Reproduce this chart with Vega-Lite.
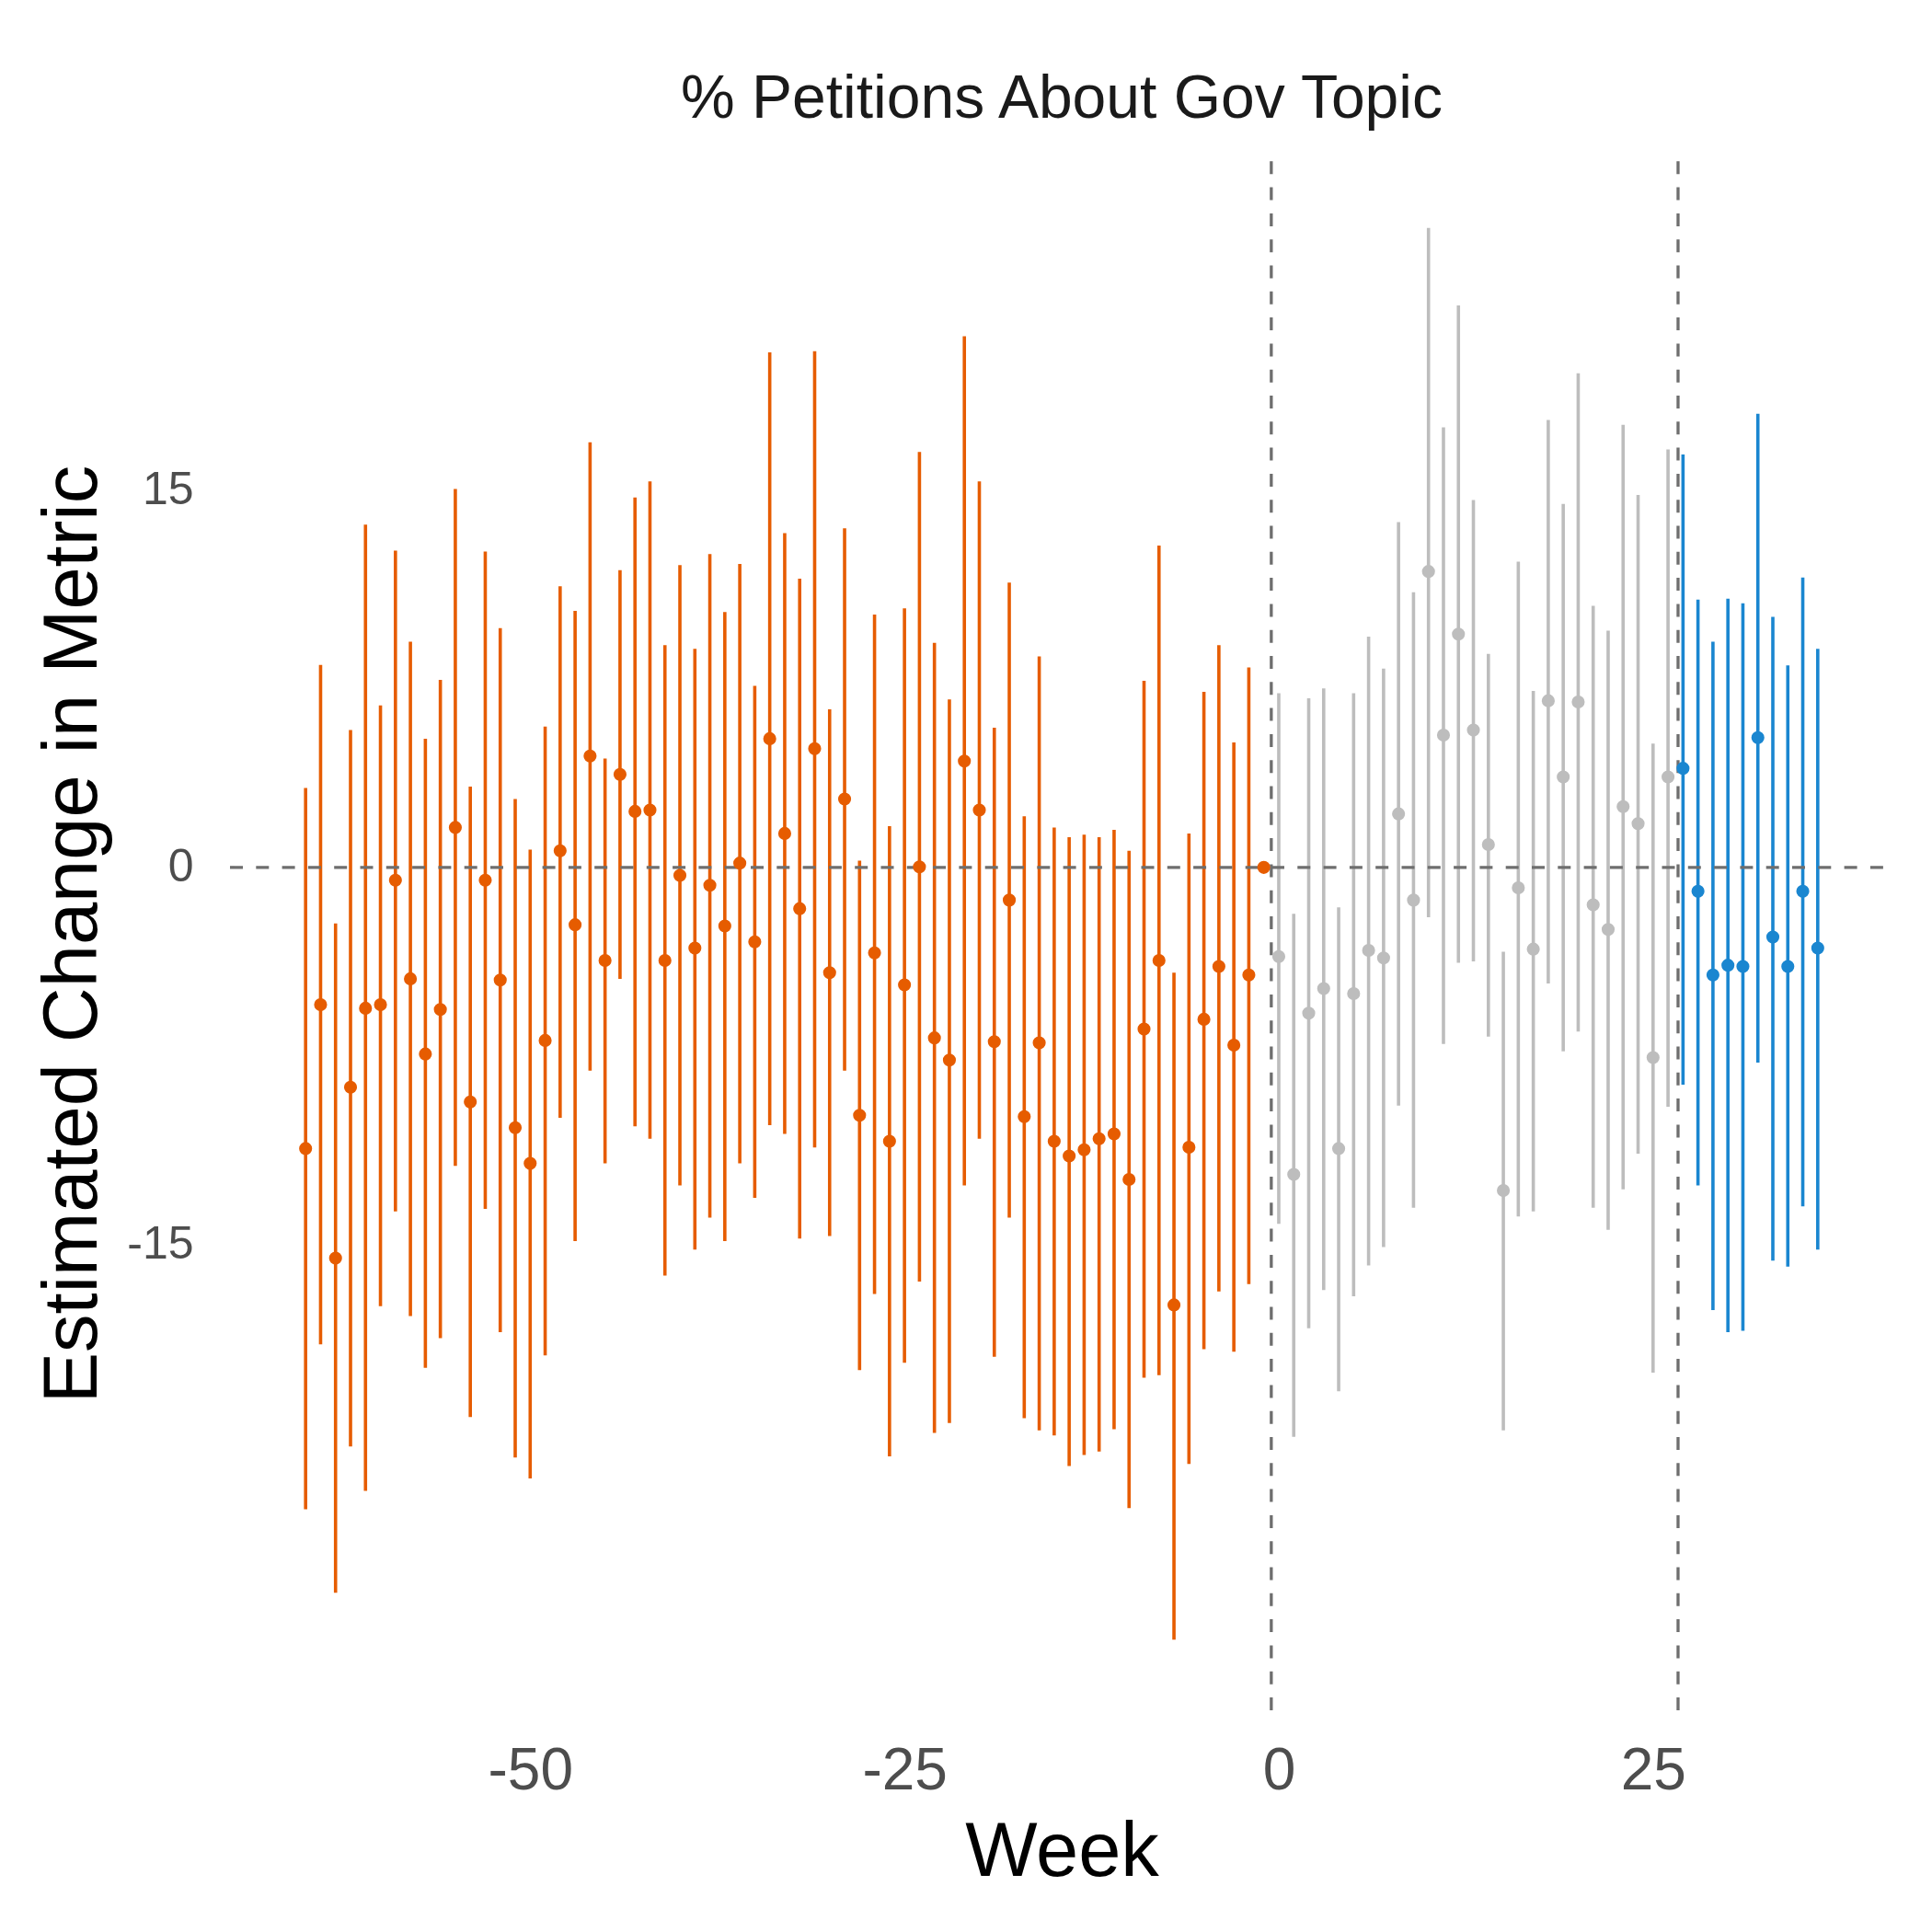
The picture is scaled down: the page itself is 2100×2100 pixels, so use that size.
{
  "$schema": "https://vega.github.io/schema/vega-lite/v6.json",
  "autosize": "none",
  "padding": {"left": 250, "top": 171, "right": 42, "bottom": 241},
  "width": 1808,
  "height": 1688,
  "background": "white",
  "config": {
    "view": {"stroke": null},
    "font": "Liberation Sans",
    "axis": {"domain": false, "ticks": false, "grid": false, "labelFont": "Liberation Sans", "titleFont": "Liberation Sans", "labelColor": "#4d4d4d", "titleColor": "#000000", "titleFontWeight": "normal"}
  },
  "title": {"text": "% Petitions About Gov Topic", "anchor": "middle", "frame": "group", "offset": 41, "dy": 66, "baseline": "alphabetic", "fontSize": 66, "fontWeight": "normal", "font": "Liberation Sans", "color": "#1a1a1a"},
  "datasets": {
    "est": [
      {"w": -65, "p": "pre", "e": -11.18, "hi": 3.16, "lo": -25.53},
      {"w": -64, "p": "pre", "e": -5.46, "hi": 8.05, "lo": -18.97},
      {"w": -63, "p": "pre", "e": -15.54, "hi": -2.23, "lo": -28.85},
      {"w": -62, "p": "pre", "e": -8.74, "hi": 5.46, "lo": -23.03},
      {"w": -61, "p": "pre", "e": -5.60, "hi": 13.63, "lo": -24.79},
      {"w": -60, "p": "pre", "e": -5.46, "hi": 6.44, "lo": -17.45},
      {"w": -59, "p": "pre", "e": -0.51, "hi": 12.60, "lo": -13.68},
      {"w": -58, "p": "pre", "e": -4.43, "hi": 8.98, "lo": -17.84},
      {"w": -57, "p": "pre", "e": -7.42, "hi": 5.12, "lo": -19.90},
      {"w": -56, "p": "pre", "e": -5.65, "hi": 7.46, "lo": -18.72},
      {"w": -55, "p": "pre", "e": 1.59, "hi": 15.05, "lo": -11.87},
      {"w": -54, "p": "pre", "e": -9.33, "hi": 3.21, "lo": -21.86},
      {"w": -53, "p": "pre", "e": -0.51, "hi": 12.56, "lo": -13.58},
      {"w": -52, "p": "pre", "e": -4.48, "hi": 9.52, "lo": -18.48},
      {"w": -51, "p": "pre", "e": -10.35, "hi": 2.72, "lo": -23.47},
      {"w": -50, "p": "pre", "e": -11.77, "hi": 0.71, "lo": -24.30},
      {"w": -49, "p": "pre", "e": -6.88, "hi": 5.60, "lo": -19.41},
      {"w": -48, "p": "pre", "e": 0.66, "hi": 11.18, "lo": -9.96},
      {"w": -47, "p": "pre", "e": -2.28, "hi": 10.20, "lo": -14.86},
      {"w": -46, "p": "pre", "e": 4.43, "hi": 16.91, "lo": -8.08},
      {"w": -45, "p": "pre", "e": -3.70, "hi": 4.33, "lo": -11.77},
      {"w": -44, "p": "pre", "e": 3.70, "hi": 11.82, "lo": -4.43},
      {"w": -43, "p": "pre", "e": 2.23, "hi": 14.71, "lo": -10.30},
      {"w": -42, "p": "pre", "e": 2.28, "hi": 15.35, "lo": -10.79},
      {"w": -41, "p": "pre", "e": -3.70, "hi": 8.84, "lo": -16.23},
      {"w": -40, "p": "pre", "e": -0.32, "hi": 12.02, "lo": -12.65},
      {"w": -39, "p": "pre", "e": -3.21, "hi": 8.69, "lo": -15.20},
      {"w": -38, "p": "pre", "e": -0.71, "hi": 12.46, "lo": -13.93},
      {"w": -37, "p": "pre", "e": -2.33, "hi": 10.16, "lo": -14.86},
      {"w": -36, "p": "pre", "e": 0.17, "hi": 12.07, "lo": -11.77},
      {"w": -35, "p": "pre", "e": -2.96, "hi": 7.22, "lo": -13.14},
      {"w": -34, "p": "pre", "e": 5.12, "hi": 20.48, "lo": -10.25},
      {"w": -33, "p": "pre", "e": 1.35, "hi": 13.29, "lo": -10.60},
      {"w": -32, "p": "pre", "e": -1.64, "hi": 11.48, "lo": -14.76},
      {"w": -31, "p": "pre", "e": 4.72, "hi": 20.53, "lo": -11.14},
      {"w": -30, "p": "pre", "e": -4.19, "hi": 6.29, "lo": -14.66},
      {"w": -29, "p": "pre", "e": 2.72, "hi": 13.49, "lo": -8.08},
      {"w": -28, "p": "pre", "e": -9.86, "hi": 0.27, "lo": -19.99},
      {"w": -27, "p": "pre", "e": -3.40, "hi": 10.06, "lo": -16.96},
      {"w": -26, "p": "pre", "e": -10.89, "hi": 1.64, "lo": -23.42},
      {"w": -25, "p": "pre", "e": -4.67, "hi": 10.30, "lo": -19.70},
      {"w": -24, "p": "pre", "e": 0.02, "hi": 16.52, "lo": -16.47},
      {"w": -23, "p": "pre", "e": -6.78, "hi": 8.93, "lo": -22.49},
      {"w": -22, "p": "pre", "e": -7.66, "hi": 6.68, "lo": -22.10},
      {"w": -21, "p": "pre", "e": 4.23, "hi": 21.12, "lo": -12.65},
      {"w": -20, "p": "pre", "e": 2.28, "hi": 15.35, "lo": -10.79},
      {"w": -19, "p": "pre", "e": -6.93, "hi": 5.56, "lo": -19.46},
      {"w": -18, "p": "pre", "e": -1.30, "hi": 11.33, "lo": -13.93},
      {"w": -17, "p": "pre", "e": -9.91, "hi": 2.03, "lo": -21.90},
      {"w": -16, "p": "pre", "e": -6.98, "hi": 8.39, "lo": -22.39},
      {"w": -15, "p": "pre", "e": -10.89, "hi": 1.59, "lo": -22.59},
      {"w": -14, "p": "pre", "e": -11.48, "hi": 1.20, "lo": -23.81},
      {"w": -13, "p": "pre", "e": -11.23, "hi": 1.30, "lo": -23.37},
      {"w": -12, "p": "pre", "e": -10.79, "hi": 1.20, "lo": -23.23},
      {"w": -11, "p": "pre", "e": -10.60, "hi": 1.49, "lo": -22.34},
      {"w": -10, "p": "pre", "e": -12.41, "hi": 0.66, "lo": -25.48},
      {"w": -9, "p": "pre", "e": -6.43, "hi": 7.42, "lo": -20.29},
      {"w": -8, "p": "pre", "e": -3.70, "hi": 12.80, "lo": -20.19},
      {"w": -7, "p": "pre", "e": -17.40, "hi": -4.19, "lo": -30.71},
      {"w": -6, "p": "pre", "e": -11.13, "hi": 1.35, "lo": -23.72},
      {"w": -5, "p": "pre", "e": -6.04, "hi": 6.98, "lo": -19.16},
      {"w": -4, "p": "pre", "e": -3.94, "hi": 8.84, "lo": -16.86},
      {"w": -3, "p": "pre", "e": -7.07, "hi": 4.97, "lo": -19.26},
      {"w": -2, "p": "pre", "e": -4.28, "hi": 7.95, "lo": -16.57},
      {"w": -1, "p": "pre", "e": 0, "hi": 0, "lo": 0},
      {"w": 0, "p": "mid", "e": -3.55, "hi": 6.93, "lo": -14.17},
      {"w": 1, "p": "mid", "e": -12.21, "hi": -1.84, "lo": -22.64},
      {"w": 2, "p": "mid", "e": -5.80, "hi": 6.73, "lo": -18.33},
      {"w": 3, "p": "mid", "e": -4.82, "hi": 7.12, "lo": -16.81},
      {"w": 4, "p": "mid", "e": -11.18, "hi": -1.59, "lo": -20.83},
      {"w": 5, "p": "mid", "e": -5.02, "hi": 6.93, "lo": -17.06},
      {"w": 6, "p": "mid", "e": -3.30, "hi": 9.18, "lo": -15.83},
      {"w": 7, "p": "mid", "e": -3.60, "hi": 7.91, "lo": -15.10},
      {"w": 8, "p": "mid", "e": 2.13, "hi": 13.73, "lo": -9.47},
      {"w": 9, "p": "mid", "e": -1.30, "hi": 10.94, "lo": -13.53},
      {"w": 10, "p": "mid", "e": 11.77, "hi": 25.43, "lo": -1.98},
      {"w": 11, "p": "mid", "e": 5.26, "hi": 17.50, "lo": -7.02},
      {"w": 12, "p": "mid", "e": 9.28, "hi": 22.35, "lo": -3.79},
      {"w": 13, "p": "mid", "e": 5.46, "hi": 14.61, "lo": -3.74},
      {"w": 14, "p": "mid", "e": 0.91, "hi": 8.49, "lo": -6.73},
      {"w": 15, "p": "mid", "e": -12.85, "hi": -3.35, "lo": -22.39},
      {"w": 16, "p": "mid", "e": -0.81, "hi": 12.16, "lo": -13.88},
      {"w": 17, "p": "mid", "e": -3.25, "hi": 7.02, "lo": -13.68},
      {"w": 18, "p": "mid", "e": 6.63, "hi": 17.79, "lo": -4.62},
      {"w": 19, "p": "mid", "e": 3.60, "hi": 14.46, "lo": -7.31},
      {"w": 20, "p": "mid", "e": 6.58, "hi": 19.65, "lo": -6.53},
      {"w": 21, "p": "mid", "e": -1.49, "hi": 10.40, "lo": -13.53},
      {"w": 22, "p": "mid", "e": -2.47, "hi": 9.42, "lo": -14.41},
      {"w": 23, "p": "mid", "e": 2.42, "hi": 17.60, "lo": -12.80},
      {"w": 24, "p": "mid", "e": 1.74, "hi": 14.81, "lo": -11.38},
      {"w": 25, "p": "mid", "e": -7.56, "hi": 4.92, "lo": -20.09},
      {"w": 26, "p": "mid", "e": 3.60, "hi": 16.62, "lo": -9.52},
      {"w": 27, "p": "post", "e": 3.94, "hi": 16.42, "lo": -8.64},
      {"w": 28, "p": "post", "e": -0.95, "hi": 10.65, "lo": -12.65},
      {"w": 29, "p": "post", "e": -4.28, "hi": 8.98, "lo": -17.60},
      {"w": 30, "p": "post", "e": -3.89, "hi": 10.69, "lo": -18.48},
      {"w": 31, "p": "post", "e": -3.94, "hi": 10.50, "lo": -18.43},
      {"w": 32, "p": "post", "e": 5.16, "hi": 18.04, "lo": -7.76},
      {"w": 33, "p": "post", "e": -2.77, "hi": 9.96, "lo": -15.64},
      {"w": 34, "p": "post", "e": -3.94, "hi": 8.03, "lo": -15.88},
      {"w": 35, "p": "post", "e": -0.95, "hi": 11.53, "lo": -13.48},
      {"w": 36, "p": "post", "e": -3.21, "hi": 8.69, "lo": -15.20}
    ],
    "hline": [{"y": 0}],
    "vline": [{"x": -0.5}, {"x": 26.67}]
  },
  "layer": [
    {
      "data": {"name": "est"},
      "mark": {"type": "rule", "strokeWidth": 3.6, "strokeCap": "butt"},
      "encoding": {
        "x": {"field": "w", "type": "quantitative", "scale": {"domain": [-70.05, 41.05], "nice": false, "zero": false},
              "axis": {"values": [-50, -25, 0, 25], "labelExpr": "'' + datum.value", "labelFontSize": 64, "labelPadding": 34, "title": "Week", "titleFontSize": 83, "titleY": 179, "titleBaseline": "alphabetic"}},
        "y": {"field": "lo", "type": "quantitative", "scale": {"domain": [-33.52, 28.24], "nice": false, "zero": false},
              "axis": {"values": [-15, 0, 15], "labelExpr": "'' + datum.value", "labelFontSize": 50, "labelPadding": 40, "title": "Estimated Change in Metric", "titleFontSize": 83, "titleX": -146, "titleY": 844, "titleAngle": -90, "titleBaseline": "alphabetic"}},
        "y2": {"field": "hi"},
        "color": {"field": "p", "type": "nominal", "scale": {"domain": ["pre", "mid", "post"], "range": ["#e65c00", "#bdbdbd", "#1a86d0"]}, "legend": null}
      }
    },
    {
      "data": {"name": "hline"},
      "mark": {"type": "rule", "color": "#6e6e6e", "strokeWidth": 3.3, "strokeDash": [14, 14.3]},
      "encoding": {
        "y": {"field": "y", "type": "quantitative"},
        "x": {"datum": -70.05},
        "x2": {"datum": 41.05}
      }
    },
    {
      "data": {"name": "vline"},
      "mark": {"type": "rule", "color": "#6e6e6e", "strokeWidth": 3.3, "strokeDash": [14, 14.3]},
      "encoding": {
        "x": {"field": "x", "type": "quantitative"},
        "y": {"datum": -33.52},
        "y2": {"datum": 28.24}
      }
    },
    {
      "data": {"name": "est"},
      "mark": {"type": "point", "shape": "circle", "filled": true, "opacity": 1, "size": 200, "strokeWidth": 0},
      "encoding": {
        "x": {"field": "w", "type": "quantitative"},
        "y": {"field": "e", "type": "quantitative"},
        "color": {"field": "p", "type": "nominal", "legend": null}
      }
    }
  ]
}
